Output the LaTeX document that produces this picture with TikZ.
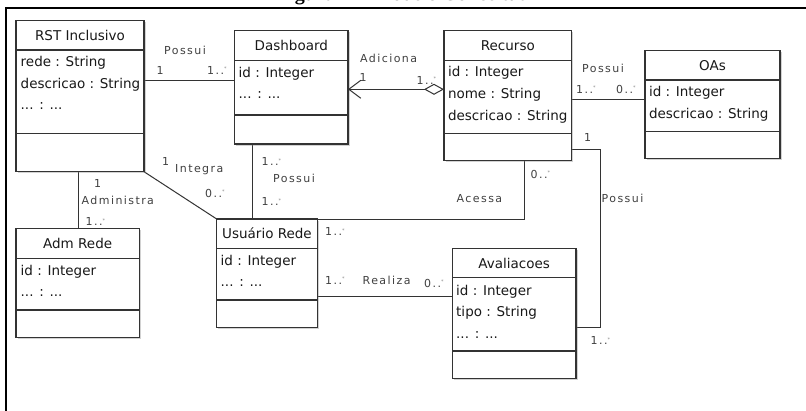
\documentclass[tikz,border=0pt]{standalone}
\usepackage{fontspec}
\setmainfont{DejaVu Sans}
\newfontfamily\lblfont[LetterSpace=13]{DejaVu Sans}
\newfontfamily\capfont{Liberation Serif}
\usetikzlibrary{arrows.meta,shadows}
% many-multiplicity star, set small and raised
\newcommand\mstar{\raisebox{.6ex}{\textcolor{black!45}{\fontsize{5}{5}\selectfont *}}}
\tikzset{
  classbox/.style={draw=black!80, line width=1.1pt, fill=white, inner sep=0pt, outer sep=0pt,
    anchor=north west, drop shadow={shadow xshift=1.5pt, shadow yshift=-1.5pt, opacity=.35}},
  divline/.style={draw=black!80, line width=1.1pt},
  ttl/.style={inner sep=0pt, font=\fontsize{13.5}{16}\selectfont, text=black!90},
  attr/.style={inner sep=0pt, anchor=base west, font=\fontsize{13.5}{16}\selectfont, text=black!90},
  lbl/.style={inner sep=0pt, anchor=west, font=\lblfont\fontsize{11}{13}\selectfont, text=black!75},
  assoc/.style={draw=black!80, line width=1pt},
  frameline/.style={draw=black, line width=2.3pt}
}
% UML class box: name, x1, y1, x2, y2, first divider y, second divider y, title
\newcommand\umlclass[8]{%
  \node[classbox, minimum width={#4pt-#2pt}, minimum height={#5pt-#3pt}] (#1) at (#2,#3) {};
  \draw[divline] (#1.west |- 0,#6) -- (#1.east |- 0,#6);
  \draw[divline] (#1.west |- 0,#7) -- (#1.east |- 0,#7);
  \node[ttl] (#1-t) at ({(#2+#4)/2},{(#3+#6)/2}) {#8};
}
\begin{document}
\begin{tikzpicture}[x=1pt, y=-1pt]
\clip (0,0) rectangle (806,410);
\fill[white] (0,0) rectangle (806,410);

% caption, cut by the top edge
\node[inner sep=0pt, anchor=base, font=\capfont\bfseries\fontsize{20}{22}\selectfont] (caption) at (406,0.8) {Figura 4 -- Modelo Conceitual};

% outer frame
\draw[frameline] (5.7,420) -- (5.7,8.3) -- (820,8.3);

% connectors (drawn first, boxes on top)
\coordinate (bend) at (600.7,327.3);
\draw[assoc] (78.3,171.7) -- (78.3,228.7);
\draw[assoc] (144,80) -- (234.7,80);
\draw[assoc] (144,171.7) -- (216.7,219);
\draw[assoc] (252.7,144) -- (252.7,219);
\draw[assoc] (524,160.7) |- (317.3,219);
\draw[assoc] (317.3,296.7) -- (452.3,296.7);
\draw[assoc] (571.7,99.3) -- (645,99.3);
\draw[assoc] (571.7,149.3) -| (bend) -- (576,327.3);

% classes
\umlclass{rst}{16}{20.7}{144}{171.7}{50}{133.3}{RST Inclusivo}
\umlclass{dash}{234.7}{30.7}{348}{144}{60.7}{115}{Dashboard}
\umlclass{rec}{444}{30.7}{571.7}{160.7}{60.7}{133.3}{Recurso}
\umlclass{oas}{645}{50.7}{780}{158.3}{80}{131.7}{OAs}
\umlclass{adm}{16}{228.7}{139.3}{337.3}{258.3}{310}{Adm Rede}
\umlclass{usr}{216.7}{219}{317.3}{327.3}{248.3}{300}{Usuário Rede}
\umlclass{ava}{452.3}{248.3}{576}{378.3}{277.7}{351}{Avaliacoes}

% attributes
\node[attr] (rst-a1) at (20.5,66.7) {rede : String};
\node[attr] (rst-a2) at (20.5,88) {descricao : String};
\node[attr] (rst-a3) at (20.5,109.5) {... : ...};
\node[attr] (dash-a1) at (238.5,77) {id : Integer};
\node[attr] (dash-a2) at (238.5,98.5) {... : ...};
\node[attr] (rec-a1) at (447.8,76.7) {id : Integer};
\node[attr] (rec-a2) at (447.8,98.5) {nome : String};
\node[attr] (rec-a3) at (447.8,120) {descricao : String};
\node[attr] (oas-a1) at (648.8,96.7) {id : Integer};
\node[attr] (oas-a2) at (648.8,118.3) {descricao : String};
\node[attr] (adm-a1) at (20.5,275) {id : Integer};
\node[attr] (adm-a2) at (20.5,296) {... : ...};
\node[attr] (usr-a1) at (220.5,265) {id : Integer};
\node[attr] (usr-a2) at (220.5,286.5) {... : ...};
\node[attr] (ava-a1) at (456,295) {id : Integer};
\node[attr] (ava-a2) at (456,316.7) {tipo : String};
\node[attr] (ava-a3) at (456,338) {... : ...};

% aggregation Dashboard <>- Recurso
\draw[assoc, {Straight Barb[length=12pt, width=18pt]}-{Diamond[open, fill=white, length=20pt, width=11pt]}]
  (dash.east |- 0,89.3) -- (rec.west |- 0,89.3);

% association labels
\node[lbl, anchor=center] (l-p1) at (185,50) {Possui};
\node[lbl] (l-p1a) at (156.5,70) {1};
\node[lbl] (l-p1b) at (207,70) {1..\mstar};
\node[lbl] (l-ad) at (360,58) {Adiciona};
\node[lbl] (l-ada) at (359.5,77) {1};
\node[lbl] (l-adb) at (416.5,80) {1..\mstar};
\node[lbl, anchor=center] (l-p2) at (603,68.3) {Possui};
\node[lbl] (l-p2a) at (576,89) {1..\mstar};
\node[lbl] (l-p2b) at (616,89) {0..\mstar};
\node[lbl] (l-p3a) at (584,137) {1};
\node[lbl] (l-p3) at (601.5,198.3) {Possui};
\node[lbl] (l-p3b) at (590.5,340.7) {1..\mstar};
\node[lbl] (l-ac) at (456.5,198.3) {Acessa};
\node[lbl] (l-aca) at (530.5,174) {0..\mstar};
\node[lbl] (l-acb) at (325,231.7) {1..\mstar};
\node[lbl] (l-rza) at (325,280) {1..\mstar};
\node[lbl] (l-rz) at (362.5,280) {Realiza};
\node[lbl] (l-rzb) at (424,283) {0..\mstar};
\node[lbl] (l-p4a) at (261.5,161.7) {1..\mstar};
\node[lbl] (l-p4) at (273,178.3) {Possui};
\node[lbl] (l-p4b) at (261.5,201.7) {1..\mstar};
\node[lbl] (l-ina) at (162,161.7) {1};
\node[lbl] (l-in) at (175,170) {Integra};
\node[lbl] (l-inb) at (205,193.3) {0..\mstar};
\node[lbl] (l-ada1) at (94,183.3) {1};
\node[lbl] (l-adm) at (81.5,200) {Administra};
\node[lbl] (l-ada2) at (85.5,221.7) {1..\mstar};
\end{tikzpicture}
\end{document}
